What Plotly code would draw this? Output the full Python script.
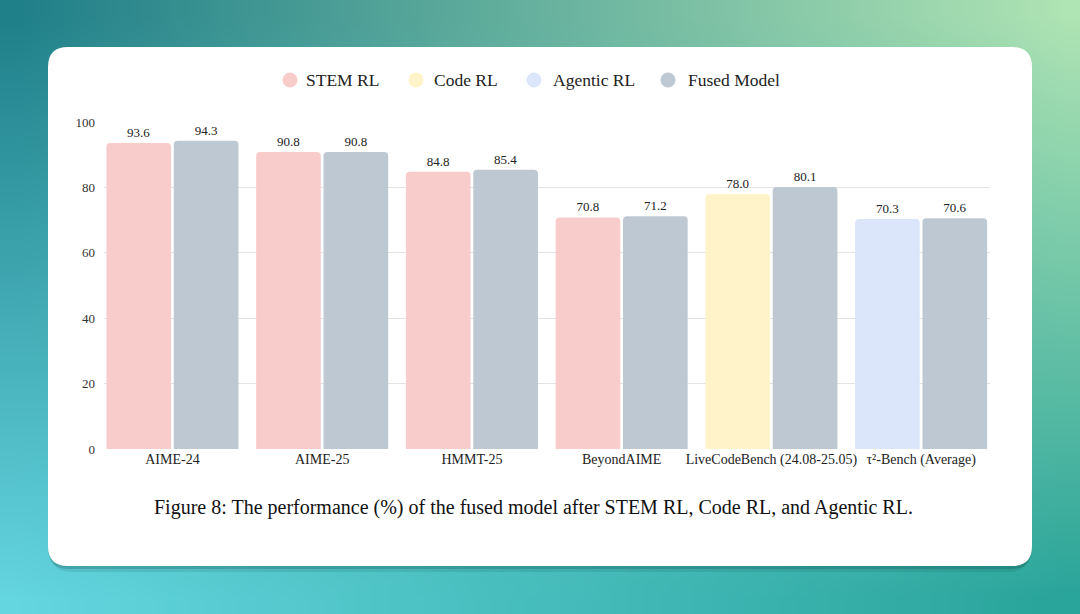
import base64
import struct
import zlib

import numpy as np
import plotly.graph_objects as go

W, H = 1080, 614

categories = ["AIME-24", "AIME-25", "HMMT-25", "BeyondAIME",
              "LiveCodeBench (24.08-25.05)", "τ²-Bench (Average)"]
stem_rl = [93.6, 90.8, 84.8, 70.8, None, None]
code_rl = [None, None, None, None, 78.0, None]
agentic_rl = [None, None, None, None, None, 70.3]
fused_model = [94.3, 90.8, 85.4, 71.2, 80.1, 70.6]

series_names = ["STEM RL", "Code RL", "Agentic RL", "Fused Model"]
colors = {
    "STEM RL": "#F8CCCB",
    "Code RL": "#FFF3C9",
    "Agentic RL": "#DCE6FA",
    "Fused Model": "#BEC8D3",
}

SERIF = "Liberation Serif, Times New Roman, serif"


def png_data_uri(rgb):
    # tiny PNG writer, only used for the backdrop gradient
    h, w, _ = rgb.shape
    raw = b"".join(b"\x00" + rgb[i].astype(np.uint8).tobytes() for i in range(h))

    def chunk(tag, data):
        c = struct.pack(">I", len(data)) + tag + data
        return c + struct.pack(">I", zlib.crc32(tag + data) & 0xFFFFFFFF)

    png = b"\x89PNG\r\n\x1a\n"
    png += chunk(b"IHDR", struct.pack(">IIBBBBB", w, h, 8, 2, 0, 0, 0))
    png += chunk(b"IDAT", zlib.compress(raw, 9))
    png += chunk(b"IEND", b"")
    return "data:image/png;base64," + base64.b64encode(png).decode()


# corner colours of the backdrop
tl = np.array([32, 128, 138])
tr = np.array([175, 228, 180])
bl = np.array([100, 214, 224])
br = np.array([42, 165, 155])
gw, gh = 32, 18
u = np.linspace(0, 1, gw)[None, :, None]
v = np.linspace(0, 1, gh)[:, None, None]
grad = (1 - v) * ((1 - u) * tl + u * tr) + v * ((1 - u) * bl + u * br)
bg_uri = png_data_uri(np.clip(grad, 0, 255))


def px(x, y):
    # pixel coords (y down) -> paper coords
    return x / W, 1 - y / H


def rounded_rect(x0, y0, x1, y1, r):
    def p(x, y):
        a, b = px(x, y)
        return f"{a:.5f},{b:.5f}"
    return (f"M {p(x0 + r, y0)} L {p(x1 - r, y0)} Q {p(x1, y0)} {p(x1, y0 + r)} "
            f"L {p(x1, y1 - r)} Q {p(x1, y1)} {p(x1 - r, y1)} "
            f"L {p(x0 + r, y1)} Q {p(x0, y1)} {p(x0, y1 - r)} "
            f"L {p(x0, y0 + r)} Q {p(x0, y0)} {p(x0 + r, y0)} Z")


fig = go.Figure()

for name, vals, grp in [("STEM RL", stem_rl, "stage"),
                        ("Code RL", code_rl, "stage"),
                        ("Agentic RL", agentic_rl, "stage"),
                        ("Fused Model", fused_model, "fused")]:
    fig.add_trace(go.Bar(
        x=categories, y=vals, name=name, offsetgroup=grp,
        marker=dict(color=colors[name], line=dict(width=0)),
        texttemplate="%{y:.1f}", textposition="outside",
        textfont=dict(family=SERIF, size=13, color="#222"),
        cliponaxis=False, showlegend=False, hoverinfo="skip",
    ))

shapes = [
    dict(type="path", xref="paper", yref="paper", layer="below",
         path=rounded_rect(50, 54, 1030, 572, 22),
         fillcolor="rgba(0,50,50,0.10)", line=dict(width=0)),
    dict(type="path", xref="paper", yref="paper", layer="below",
         path=rounded_rect(48, 50, 1032, 569, 21),
         fillcolor="rgba(0,50,50,0.18)", line=dict(width=0)),
    dict(type="path", xref="paper", yref="paper", layer="below",
         path=rounded_rect(48, 47, 1032, 566, 20),
         fillcolor="white", line=dict(width=0)),
]
annotations = []

# legend drawn by hand: round dots, tight text spacing
legend_dot_x = [290, 416, 534, 668]
legend_text_x = [304, 432, 551, 686]
legend_y = 80
for name, cx, tx in zip(series_names, legend_dot_x, legend_text_x):
    x0, y0 = px(cx - 7.5, legend_y - 7.5)
    x1, y1 = px(cx + 7.5, legend_y + 7.5)
    shapes.append(dict(type="circle", xref="paper", yref="paper",
                       x0=x0, x1=x1, y0=y1, y1=y0,
                       fillcolor=colors[name], line=dict(width=0)))
    ax, ay = px(tx, legend_y)
    annotations.append(dict(text=name, xref="paper", yref="paper", x=ax, y=ay,
                            xanchor="left", yanchor="middle", showarrow=False,
                            font=dict(family=SERIF, size=17.5, color="#222")))

cx, cy = px(533, 507)
annotations.append(dict(
    text="Figure 8: The performance (%) of the fused model after STEM RL, "
         "Code RL, and Agentic RL.",
    xref="paper", yref="paper", x=cx, y=cy,
    xanchor="center", yanchor="middle", showarrow=False,
    font=dict(family=SERIF, size=20, color="#111")))

fig.update_layout(
    width=W, height=H,
    margin=dict(l=0, r=0, t=0, b=0, autoexpand=False),
    paper_bgcolor="#3aa79c",
    plot_bgcolor="rgba(0,0,0,0)",
    barmode="group", bargap=0.1, bargroupgap=0.04,
    barcornerradius=4,
    font=dict(family=SERIF, color="#222"),
    images=[dict(source=bg_uri, xref="paper", yref="paper", x=0, y=1,
                 sizex=1, sizey=1, xanchor="left", yanchor="top",
                 sizing="stretch", layer="below")],
    shapes=shapes,
    annotations=annotations,
    showlegend=False,
    xaxis=dict(domain=[104 / W, 990 / W], range=[-0.457, 5.46],
               showgrid=False, zeroline=False, showline=False,
               tickfont=dict(family=SERIF, size=14, color="#222"),
               ticks="", fixedrange=True, automargin=False),
    yaxis=dict(domain=[1 - 449 / H, 1 - 122 / H], range=[0, 100],
               tickvals=[0, 20, 40, 60, 80, 100],
               showgrid=True, gridcolor="#E3E3E3", gridwidth=1,
               zeroline=False, showline=False,
               tickfont=dict(family=SERIF, size=13, color="#333"),
               ticklabelstandoff=8, fixedrange=True, automargin=False),
)

fig.write_html(
    "out.html",
    config={"displayModeBar": False},
    post_script="document.body.style.margin='0';"
                "document.body.style.overflow='hidden';",
)
